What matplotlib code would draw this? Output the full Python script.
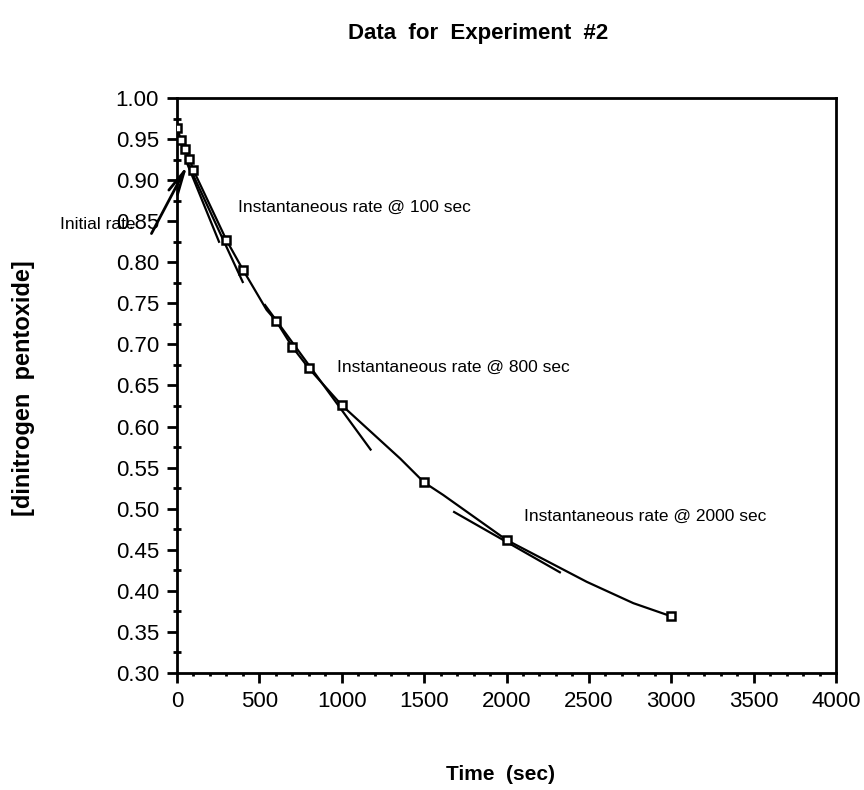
import matplotlib
matplotlib.use("Agg")
import matplotlib.pyplot as plt
from matplotlib.ticker import MultipleLocator, FormatStrFormatter

plt.rcParams['font.family'] = ['Liberation Sans', 'DejaVu Sans']

time_s = [0, 25, 50, 75, 100, 300, 400, 600, 700, 800, 1000, 1500, 2000, 3000]
conc = [0.963, 0.949, 0.938, 0.926, 0.912, 0.827, 0.791, 0.729, 0.697, 0.671,
        0.626, 0.532, 0.462, 0.369]

# hand-drawn curve
curve_t = [0, 25, 50, 75, 100, 300, 400, 544, 600, 700, 800, 1000, 1355,
           1500, 1616, 2000, 2487, 2770, 3000]
curve_c = [0.963, 0.949, 0.938, 0.926, 0.912, 0.827, 0.791, 0.742, 0.729,
           0.697, 0.671, 0.626, 0.561, 0.532, 0.5167, 0.462, 0.411, 0.385,
           0.369]

# tangent segments ([x0, x1], [y0, y1])
tangent_a = ([60, 255], [0.921, 0.825])
tangent_b = ([55, 399], [0.925, 0.776])
tangent_800 = ([534, 1175], [0.748, 0.572])
tangent_2000 = ([1682, 2324], [0.496, 0.4226])

x_ticks = [0, 500, 1000, 1500, 2000, 2500, 3000, 3500, 4000]

fig = plt.figure(figsize=(8.64, 7.9), dpi=100)
ax = fig.add_axes([177/864, 1-673/790, (836-177)/864, (673-98)/790])

ax.plot(curve_t, curve_c, color='black', lw=1.6, zorder=3)
ax.plot(time_s, conc, linestyle='none', marker='s', ms=5.5, mfc='white',
        mec='black', mew=1.8, zorder=4)

for seg in (tangent_a, tangent_b, tangent_800, tangent_2000):
    ax.plot(seg[0], seg[1], color='black', lw=1.6, zorder=2)

ax.annotate('', xy=(63, 0.918), xytext=(-155, 0.835),
            arrowprops=dict(arrowstyle='->, head_length=1.7, head_width=0.35',
                            lw=2, color='black', mutation_scale=10,
                            shrinkA=0, shrinkB=0),
            annotation_clip=False, zorder=5)

ax.text(-710, 0.8454, 'Initial rate', fontsize=12.5, ha='left', va='center',
        clip_on=False)
ax.text(372, 0.8673, 'Instantaneous rate @ 100 sec', fontsize=12.5,
        ha='left', va='center')
ax.text(969, 0.6725, 'Instantaneous rate @ 800 sec', fontsize=12.5,
        ha='left', va='center')
ax.text(2106, 0.4908, 'Instantaneous rate @ 2000 sec', fontsize=12.5,
        ha='left', va='center')

ax.set_xlim(0, 4000)
ax.set_ylim(0.30, 1.00)
ax.set_xticks(x_ticks)
ax.xaxis.set_minor_locator(MultipleLocator(100))
ax.yaxis.set_major_locator(MultipleLocator(0.05))
ax.yaxis.set_minor_locator(MultipleLocator(0.025))
ax.yaxis.set_major_formatter(FormatStrFormatter('%.2f'))

for sp in ax.spines.values():
    sp.set_linewidth(2)
ax.tick_params(axis='both', which='major', labelsize=16, width=2, length=7,
               direction='out', pad=6)
ax.tick_params(axis='y', which='minor', width=2, length=6, direction='inout')
ax.tick_params(axis='x', which='minor', width=2, length=2.5, direction='out')

fig.text(478/864, 1-34/790, 'Data  for  Experiment  #2', fontsize=16,
         fontweight='bold', ha='center', va='center')
fig.text(500/864, 1-775/790, 'Time  (sec)', fontsize=15, fontweight='bold',
         ha='center', va='center')
fig.text(24/864, 1-388/790, '[dinitrogen  pentoxide]', fontsize=17,
         fontweight='bold', ha='center', va='center', rotation=90)

fig.savefig('out.png', dpi=100)
